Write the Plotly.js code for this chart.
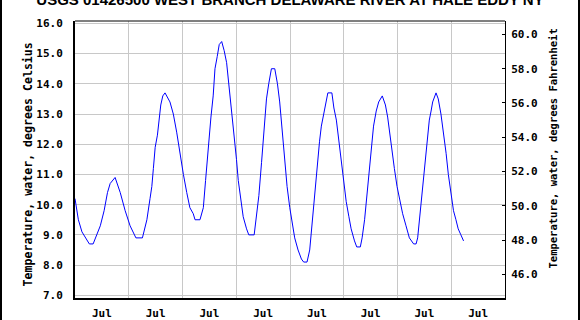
<!DOCTYPE html>
<html>
<head>
<meta charset="utf-8">
<script src="https://cdn.plot.ly/plotly-3.0.1.min.js"></script>
<style>
  html, body { margin: 0; padding: 0; background: #fff; }
  #wrap { position: relative; width: 580px; height: 320px; overflow: hidden; }
  #chart { width: 580px; height: 320px; }
  #frame { position: absolute; left: 0; top: 0; width: 580px; height: 320px; box-sizing: border-box;
           border-left: 2px solid #000; border-right: 2px solid #000; pointer-events: none; }
</style>
</head>
<body>
<div id="wrap"><div id="chart"></div><div id="frame"></div></div>
<script>
// ---- data ----
const chartTitle = 'USGS 01426500 WEST BRANCH DELAWARE RIVER AT HALE EDDY NY';
const leftAxisTitle = 'Temperature, water, degrees Celsius';
const rightAxisTitle = 'Temperature, water, degrees Fahrenheit';
const startDate = '2015-07-10';
const daysShown = 8;
// hours since start of first day
const hours = [
  0, 1.5, 3.1, 6.4, 8.1, 11.3, 13.0, 14.5, 15.7, 17.9, 20.2, 22.4,
  24.6, 26.4, 27.2, 30.1, 32.1, 33.5, 34.3, 35.0, 35.8, 36.8, 37.5, 38.3, 39.2, 40.2, 42.4, 43.9, 45.4, 46.6,
  48.4, 49.9, 51.3, 52.8, 53.6, 55.8, 57.3, 58.3, 59.5, 60.7, 61.7, 62.5, 63.5, 64.4, 65.5, 66.6, 67.7, 68.7, 69.9, 71.1,
  72.1, 72.9, 74.1, 75.1, 76.6, 77.6, 80.0, 81.0, 82.1, 83.3, 84.4, 85.5, 86.5, 87.7, 89.2, 90.4, 91.4, 92.4, 93.3, 94.7,
  95.9, 97.1, 98.1, 99.6, 101.1, 102.1, 103.6, 104.8, 105.5, 106.6, 107.5, 108.5, 109.2, 110.0, 111.0, 112.2, 112.9, 114.7,
  115.6, 116.7, 117.8, 118.9, 119.9, 121.1, 122.3, 123.3, 124.8, 125.8, 127.4, 128.2, 129.3, 130.3, 131.2, 132.3, 133.3,
  134.5, 135.6, 137.2, 138.6, 139.6, 140.4, 141.4, 142.6, 143.8, 144.9, 146.3, 147.8, 149.3, 151.2, 152.3, 153.0, 153.8,
  154.8, 155.7, 156.8, 157.5, 158.2, 159.0, 159.7, 161.2, 162.2, 163.4, 164.6, 165.7, 166.7, 167.9, 169.0, 170.1, 171.1,
  172.3, 173.5
];
const tempC = [
  10.2, 9.5, 9.1, 8.7, 8.7, 9.3, 9.8, 10.4, 10.7, 10.9, 10.4, 9.8,
  9.3, 9.0, 8.9, 8.9, 9.5, 10.2, 10.6, 11.2, 11.9, 12.3, 12.8, 13.3, 13.6, 13.7, 13.4, 13.0, 12.4, 11.8,
  11.0, 10.4, 9.9, 9.7, 9.5, 9.5, 9.9, 10.8, 11.9, 12.9, 13.6, 14.5, 14.9, 15.3, 15.4, 15.1, 14.7, 14.0, 13.1, 12.3,
  11.5, 10.8, 10.2, 9.6, 9.2, 9.0, 9.0, 9.6, 10.3, 11.4, 12.5, 13.5, 14.0, 14.5, 14.5, 14.0, 13.4, 12.6, 11.7, 10.6,
  9.9, 9.4, 8.9, 8.5, 8.2, 8.1, 8.1, 8.5, 9.1, 9.8, 10.8, 11.5, 12.1, 12.6, 13.0, 13.4, 13.7, 13.7,
  13.2, 12.8, 12.1, 11.5, 10.7, 10.1, 9.6, 9.2, 8.8, 8.6, 8.6, 8.9, 9.5, 10.3, 11.0, 11.8, 12.6,
  13.1, 13.4, 13.6, 13.3, 12.9, 12.4, 11.8, 11.2, 10.6, 10.2, 9.7, 9.3, 8.9, 8.7, 8.7, 8.9, 9.5,
  10.2, 10.9, 11.7, 12.3, 12.8, 13.1, 13.4, 13.7, 13.5, 13.0, 12.4, 11.7, 11.0, 10.4, 9.8, 9.5, 9.2,
  9.0, 8.8
];
const celsiusTicks = [7, 8, 9, 10, 11, 12, 13, 14, 15, 16];
const fahrenheitTicks = [46, 48, 50, 52, 54, 56, 58, 60];

// ---- build dates ----
const t0 = Date.parse(startDate + 'T00:00:00Z');
function fmt(ms) {
  const d = new Date(ms);
  const p = n => String(n).padStart(2, '0');
  return d.getUTCFullYear() + '-' + p(d.getUTCMonth() + 1) + '-' + p(d.getUTCDate()) + ' ' +
         p(d.getUTCHours()) + ':' + p(d.getUTCMinutes()) + ':' + p(d.getUTCSeconds());
}
const xDates = hours.map(h => fmt(t0 + h * 3600000));
const xStart = fmt(t0);
const xEnd = fmt(t0 + daysShown * 86400000);

const mono = 'DejaVu Sans Mono, monospace';
const tickFont = { family: mono, size: 11, color: '#000', weight: 700 };

const traces = [
  { x: xDates, y: tempC, type: 'scatter', mode: 'lines', line: { color: '#0000ff', width: 1 },
    hoverinfo: 'skip', showlegend: false },
  { x: [xStart], y: [null], yaxis: 'y2', type: 'scatter', mode: 'lines', showlegend: false, hoverinfo: 'skip' }
];

const layout = {
  width: 580, height: 320,
  margin: { l: 75, r: 75, t: 21, b: 22, pad: 0 },
  paper_bgcolor: '#fff', plot_bgcolor: '#fff',
  showlegend: false,
  title: { text: chartTitle, x: 0.5, xref: 'container', xanchor: 'center', y: 1, yref: 'container', yanchor: 'middle',
           font: { family: 'Liberation Sans, Arial, sans-serif', size: 15, color: '#000', weight: 700 } },
  xaxis: {
    type: 'date', range: [xStart, xEnd], tick0: xStart, dtick: 86400000,
    tickformat: '%b', ticklabelmode: 'period', ticks: '',
    showgrid: true, gridcolor: '#c8c8c8', gridwidth: 1, zeroline: false,
    showline: true, linecolor: '#000', linewidth: 2,
    tickfont: tickFont, ticklabelstandoff: 4
  },
  yaxis: {
    range: [6.91, 16.08], tickvals: celsiusTicks, tickformat: '.1f', ticks: '',
    showgrid: true, gridcolor: '#c8c8c8', gridwidth: 1, zeroline: false,
    showline: true, linecolor: '#000', linewidth: 2,
    tickfont: tickFont, ticklabelstandoff: 8
  },
  yaxis2: {
    overlaying: 'y', side: 'right', range: [44.62, 60.78], tickvals: fahrenheitTicks, tickformat: '.1f',
    ticks: 'inside', ticklen: 3, tickcolor: '#000', tickwidth: 1,
    showgrid: false, zeroline: false, showline: true, linecolor: '#000', linewidth: 1,
    tickfont: tickFont, ticklabelstandoff: 3
  },
  shapes: [
    { type: 'line', xref: 'paper', yref: 'paper', x0: 0, x1: 1, y0: 1, y1: 1, line: { color: '#000', width: 1 } }
  ],
  annotations: [
    { text: leftAxisTitle, xref: 'paper', yref: 'paper', x: (27 - 75) / 430, y: (298 - 164.5) / 277,
      xanchor: 'center', yanchor: 'middle', textangle: -90, showarrow: false,
      font: { family: mono, size: 11.6, color: '#000', weight: 700 } },
    { text: rightAxisTitle, xref: 'paper', yref: 'paper', x: (552 - 75) / 430, y: (298 - 148.5) / 277,
      xanchor: 'center', yanchor: 'middle', textangle: -90, showarrow: false,
      font: { family: mono, size: 10.5, color: '#000', weight: 700 } }
  ]
};

Plotly.newPlot('chart', traces, layout, { staticPlot: true, displayModeBar: false });
</script>
</body>
</html>
